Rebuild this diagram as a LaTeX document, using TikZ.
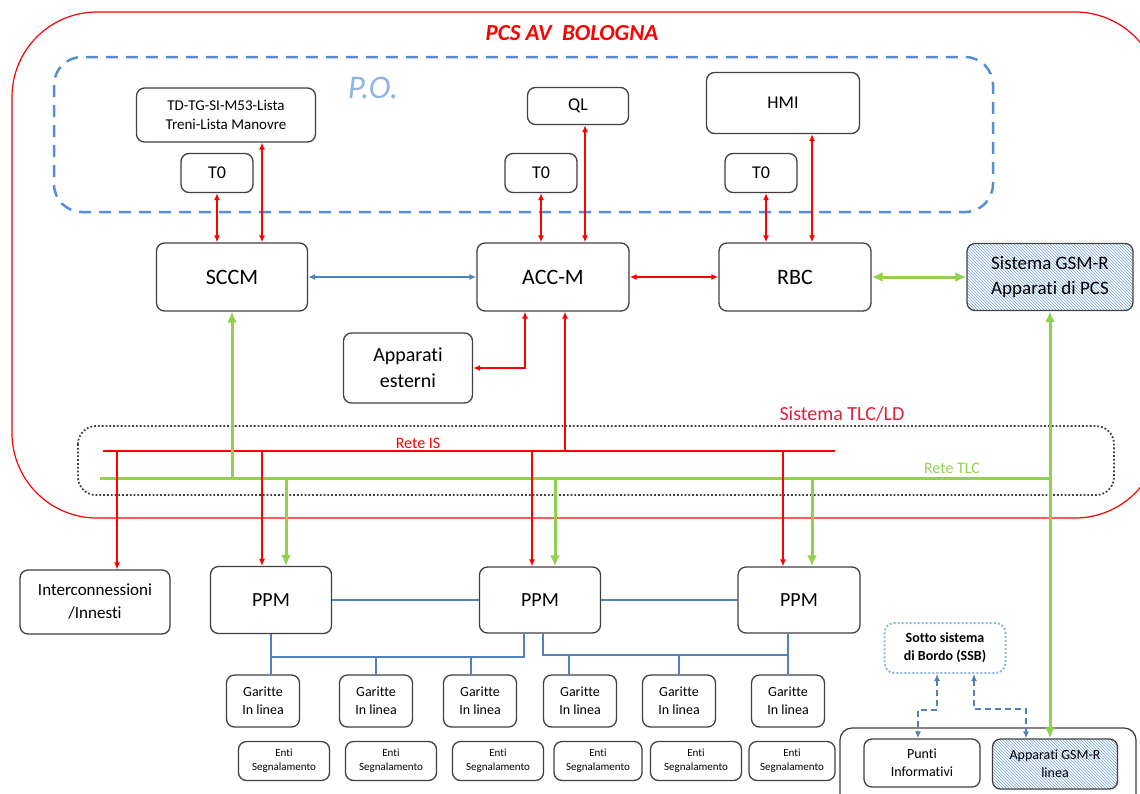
\documentclass[tikz,border=0pt]{standalone}
\usepackage{fontspec}
\setmainfont{Carlito}[Ligatures=NoCommon]
\usetikzlibrary{positioning,arrows.meta,patterns}
\definecolor{pcsred}{HTML}{FF0000}
\definecolor{tlcred}{HTML}{E0203A}
\definecolor{tlcgreen}{HTML}{92D050}
\definecolor{lnkblue}{HTML}{4F81BD}
\definecolor{podash}{HTML}{558ED5}
\definecolor{potext}{HTML}{8EB4E3}
\definecolor{ssbdot}{HTML}{8DB4E2}
\definecolor{boxgray}{HTML}{404040}
\definecolor{hatchblue}{HTML}{6F9FD8}
\newcommand{\pcsfont}[2]{\fontsize{#1}{#2}\selectfont}
\tikzstyle{unit} = [draw=boxgray, line width=1.3pt, rounded corners=8pt, fill=white, align=center, inner sep=0pt]
\tikzstyle{hatched} = [draw=boxgray, line width=1.3pt, rounded corners=8pt, pattern=north west lines, pattern color=hatchblue, align=center, inner sep=0pt]
\tikzstyle{ssbbox} = [draw=ssbdot, line width=2pt, dotted, rounded corners=10pt, align=center, inner sep=0pt]
\tikzstyle{redline} = [draw=pcsred, line width=1.3pt, >={Latex[length=7pt,width=6pt]}]
\tikzstyle{greenline} = [draw=tlcgreen, line width=3pt, >={Latex[length=11pt,width=10pt]}]
\tikzstyle{blueline} = [draw=lnkblue, line width=1.3pt, >={Latex[length=7pt,width=6pt]}]
\tikzstyle{ssbline} = [draw=lnkblue, line width=1.3pt, dash pattern=on 6pt off 4pt, >={Latex[length=7pt,width=6pt]}]
\begin{document}
\begin{tikzpicture}[x=1pt, y=-1pt]
    \useasboundingbox (0,0) rectangle (1140,793);
    \clip (0,0) rectangle (1140,793);
    % Frames
    \draw[pcsred, line width=1.2pt, rounded corners=85pt] (12,12) rectangle (1160,518);
    \draw[podash, line width=2.5pt, dash pattern=on 12pt off 8pt, rounded corners=28pt] (54,57) rectangle (993,212);
    \draw[black!75, line width=1.8pt, dotted, rounded corners=18pt] (78,426) rectangle (1114,495);
    \draw[boxgray, line width=1.3pt, rounded corners=12pt] (840,728) rectangle (1136,812);
    % Labels
    \node[text=pcsred, font=\pcsfont{23}{27}\bfseries\itshape] (title) at (572,33) {PCS AV\ \ BOLOGNA};
    \node[text=potext, font=\pcsfont{33}{38}\itshape] (po) at (373,88) {P.O.};
    \node[text=tlcred, font=\pcsfont{20}{24}] (tlcld) at (842,414) {Sistema TLC/LD};
    \node[text=pcsred, font=\pcsfont{16}{18}] (reteis) at (418,443) {Rete IS};
    \node[text=tlcgreen, font=\pcsfont{16}{19}] (retetlc) at (952,468) {Rete TLC};
    % Place nodes
    \node[unit, minimum width=179pt, minimum height=54pt, font=\pcsfont{15}{19}] (lists) at (226,115) {TD-TG-SI-M53-Lista\\Treni-Lista Manovre};
    \node[unit, minimum width=72pt, minimum height=39pt, font=\pcsfont{18}{20}] (tzeroa) at (217,173) {T0};
    \node[unit, minimum width=101pt, minimum height=37pt, font=\pcsfont{18}{20}] (ql) at (578,106) {QL};
    \node[unit, minimum width=72pt, minimum height=39pt, font=\pcsfont{18}{20}] (tzerob) at (541,173) {T0};
    \node[unit, minimum width=153pt, minimum height=61pt, font=\pcsfont{18}{20}] (hmi) at (783,103) {HMI};
    \node[unit, minimum width=72pt, minimum height=39pt, font=\pcsfont{18}{20}] (tzeroc) at (761,173) {T0};
    \node[unit, minimum width=151pt, minimum height=68pt, font=\pcsfont{22}{26}] (sccm) at (232,277) {SCCM};
    \node[unit, minimum width=152pt, minimum height=68pt, font=\pcsfont{22}{26}] (accm) at (553,277) {ACC-M};
    \node[unit, minimum width=152pt, minimum height=68pt, font=\pcsfont{22}{26}] (rbc) at (795,277) {RBC};
    \node[hatched, minimum width=166pt, minimum height=67pt, font=\pcsfont{19}{25}] (gsmr) at (1050,277) {Sistema GSM-R\\Apparati di PCS};
    \node[unit, minimum width=129pt, minimum height=70pt, font=\pcsfont{20}{26}] (esterni) at (408,368) {Apparati\\esterni};
    \node[unit, minimum width=150pt, minimum height=64pt, font=\pcsfont{17}{23}] (interc) at (95,602) {Interconnessioni\\/Innesti};
    \node[unit, minimum width=121pt, minimum height=67pt, font=\pcsfont{20}{24}] (ppma) at (271,600) {PPM};
    \node[unit, minimum width=121pt, minimum height=66pt, font=\pcsfont{20}{24}] (ppmb) at (540,600) {PPM};
    \node[unit, minimum width=122pt, minimum height=66pt, font=\pcsfont{20}{24}] (ppmc) at (799,600) {PPM};
    \node[unit, minimum width=73pt, minimum height=52pt, font=\pcsfont{14}{18}] (gara) at (263,701) {Garitte\\In linea};
    \node[unit, minimum width=73pt, minimum height=52pt, font=\pcsfont{14}{18}] (garb) at (376,701) {Garitte\\In linea};
    \node[unit, minimum width=73pt, minimum height=52pt, font=\pcsfont{14}{18}] (garc) at (480,701) {Garitte\\In linea};
    \node[unit, minimum width=73pt, minimum height=52pt, font=\pcsfont{14}{18}] (gard) at (580,701) {Garitte\\In linea};
    \node[unit, minimum width=73pt, minimum height=52pt, font=\pcsfont{14}{18}] (gare) at (679,701) {Garitte\\In linea};
    \node[unit, minimum width=73pt, minimum height=52pt, font=\pcsfont{14}{18}] (garf) at (788,701) {Garitte\\In linea};
    \node[unit, minimum width=91pt, minimum height=39pt, font=\pcsfont{11}{14}] (entia) at (284,761) {Enti\\Segnalamento};
    \node[unit, minimum width=91pt, minimum height=39pt, font=\pcsfont{11}{14}] (entib) at (391,761) {Enti\\Segnalamento};
    \node[unit, minimum width=91pt, minimum height=39pt, font=\pcsfont{11}{14}] (entic) at (498,761) {Enti\\Segnalamento};
    \node[unit, minimum width=88pt, minimum height=39pt, font=\pcsfont{11}{14}] (entid) at (598,761) {Enti\\Segnalamento};
    \node[unit, minimum width=91pt, minimum height=39pt, font=\pcsfont{11}{14}] (entie) at (696,761) {Enti\\Segnalamento};
    \node[unit, minimum width=86pt, minimum height=39pt, font=\pcsfont{11}{14}] (entif) at (792,761) {Enti\\Segnalamento};
    \node[ssbbox, minimum width=121pt, minimum height=50pt, font=\pcsfont{14}{18}\bfseries] (ssb) at (945,648) {Sotto sistema\\di Bordo (SSB)};
    \node[unit, minimum width=116pt, minimum height=48pt, font=\pcsfont{14}{18}] (punti) at (922,763) {Punti\\Informativi};
    \node[hatched, minimum width=125pt, minimum height=50pt, font=\pcsfont{14}{18}] (gsmlinea) at (1055,764) {Apparati GSM-R\\linea};
    % Buses
    \coordinate (isw) at (103,451);
    \coordinate (ise) at (835,451);
    \coordinate (tlcw) at (100,478);
    \coordinate (busa) at (270,657);
    \coordinate (busb) at (543,655);
    % Draw edges
    \draw[redline, <->] (tzeroa.south) -- (tzeroa.south |- sccm.north);
    \draw[redline, <->] ([xshift=36pt]lists.south) -- ([xshift=36pt]lists.south |- sccm.north);
    \draw[redline, <->] (tzerob.south) -- (tzerob.south |- accm.north);
    \draw[redline, <->] ([xshift=7pt]ql.south) -- ([xshift=7pt]ql.south |- accm.north);
    \draw[redline, <->] ([xshift=5pt]tzeroc.south) -- ([xshift=5pt]tzeroc.south |- rbc.north);
    \draw[redline, <->] ([xshift=29pt]hmi.south) -- ([xshift=29pt]hmi.south |- rbc.north);
    \draw[blueline, <->] (sccm.east) -- (accm.west);
    \draw[redline, <->] (accm.east) -- (rbc.west);
    \draw[greenline, <->] (rbc.east) -- (gsmr.west);
    \draw[redline, <->] ([xshift=-28pt]accm.south) |- (esterni.east);
    \draw[redline] (isw) -- (ise);
    \draw[greenline] (tlcw) -- (gsmr.south |- tlcw);
    \draw[greenline, ->] (sccm.south |- tlcw) -- (sccm.south);
    \draw[redline, ->] ([xshift=12pt]accm.south |- isw) -- ([xshift=12pt]accm.south);
    \draw[greenline, <->] (gsmr.south) -- (gsmr.south |- gsmlinea.north);
    \draw[redline, ->] ([xshift=22pt]interc.north |- isw) -- ([xshift=22pt]interc.north);
    \draw[redline, ->] ([xshift=-9pt]ppma.north |- isw) -- ([xshift=-9pt]ppma.north);
    \draw[redline, ->] ([xshift=-8pt]ppmb.north |- isw) -- ([xshift=-8pt]ppmb.north);
    \draw[redline, ->] ([xshift=-16pt]ppmc.north |- isw) -- ([xshift=-16pt]ppmc.north);
    \draw[greenline, ->] ([xshift=15pt]ppma.north |- tlcw) -- ([xshift=15pt]ppma.north);
    \draw[greenline, ->] ([xshift=15pt]ppmb.north |- tlcw) -- ([xshift=15pt]ppmb.north);
    \draw[greenline, ->] ([xshift=13pt]ppmc.north |- tlcw) -- ([xshift=13pt]ppmc.north);
    \draw[blueline] (ppma.east) -- (ppmb.west);
    \draw[blueline] (ppmb.east) -- (ppmc.west);
    \draw[blueline] (ppma.south) -- (ppma.south |- gara.north);
    \draw[blueline] (busa) -| ([xshift=-16pt]ppmb.south);
    \draw[blueline] (garb.north |- busa) -- (garb.north);
    \draw[blueline] ([xshift=-9pt]garc.north |- busa) -- ([xshift=-9pt]garc.north);
    \draw[blueline] ([xshift=3pt]ppmb.south) -- ([xshift=3pt]ppmb.south |- busb) -- (garf.north |- busb);
    \draw[blueline] ([xshift=-11pt]ppmc.south) -- (garf.north);
    \draw[blueline] ([xshift=-11pt]gard.north |- busb) -- ([xshift=-11pt]gard.north);
    \draw[blueline] (gare.north |- busb) -- (gare.north);
    \draw[ssbline, <->] ([xshift=-8pt]ssb.south) -- ++(0,36) -| ([xshift=-4pt]punti.north);
    \draw[ssbline, <->] ([xshift=29pt]ssb.south) -- ++(0,35) -| ([xshift=-29pt]gsmlinea.north);
\end{tikzpicture}
\end{document}
